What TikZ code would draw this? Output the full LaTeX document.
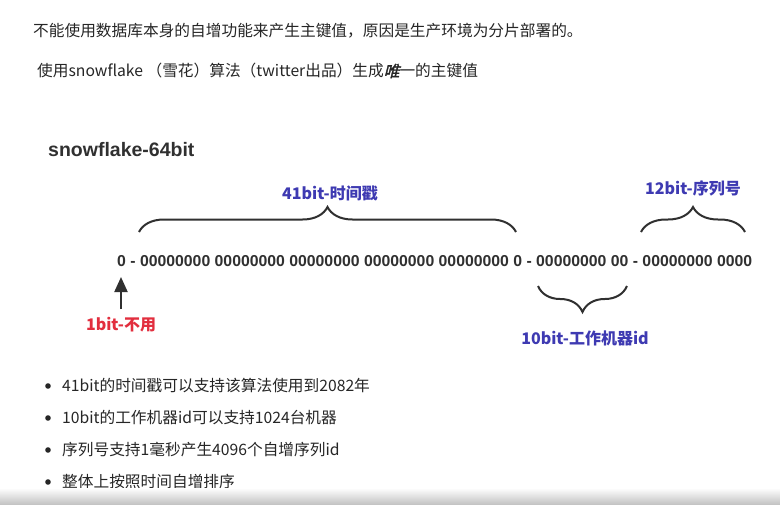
\documentclass[tikz,border=0pt]{standalone}
\usepackage{fontspec}
\setmainfont{Noto Sans CJK SC}
\newfontfamily\bitfont{Liberation Sans}
\newfontfamily\slantfont[FakeSlant=0.25,FakeBold=2]{Noto Sans CJK SC}
\usetikzlibrary{arrows.meta,decorations.pathreplacing}
\definecolor{ctext}{RGB}{38,38,38}
\definecolor{cdiag}{RGB}{48,48,48}
\definecolor{cfield}{RGB}{62,58,178}
\definecolor{cunused}{RGB}{226,46,62}
\definecolor{cshade}{RGB}{196,196,196}

\begin{document}
\begin{tikzpicture}[x=1pt,y=-1pt,
  every node/.style={inner sep=0pt},
  para/.style={anchor=west,text=ctext,font=\fontsize{15.7}{17}\selectfont},
  field/.style={font=\fontsize{16}{18}\selectfont\bfseries},
  bitbrace/.style={draw=cdiag,line width=2pt,decorate,decoration={brace,amplitude=#1}}]
  \fill[white] (0,0) rectangle (780,504);
  \useasboundingbox (0,0) rectangle (780,504);
  % intro lines
  \node[para] (intro) at (33,31) {不能使用数据库本身的自增功能来产生主键值，原因是生产环境为分片部署的。};
  \node[para] (algo) at (37,71) {使用snowflake （雪花）算法（twitter出品）生成{\slantfont 唯}一的主键值};
  % diagram
  \node[anchor=west,text=cdiag,font=\bitfont\fontsize{19.5}{22}\selectfont\bfseries] (title) at (48,150) {snowflake-64bit};
  \node[anchor=west,text=cdiag,font=\bitfont\fontsize{15.8}{18}\selectfont\bfseries] (bits) at (117,261)
    {0 - 00000000 00000000 00000000 00000000 00000000 0 - 00000000 00 - 00000000 0000};
  % braces
  \coordinate (tsL) at (139,232); \coordinate (tsR) at (516,232);
  \coordinate (wkL) at (538,286); \coordinate (wkR) at (627,286);
  \coordinate (sqL) at (641,232); \coordinate (sqR) at (745,232);
  \draw[bitbrace=25pt] (tsL) -- (tsR);
  \draw[bitbrace=26pt] (wkR) -- (wkL);
  \draw[bitbrace=25pt] (sqL) -- (sqR);
  \node[field,text=cfield] (ts) at (330,193) {41bit-时间戳};
  \node[field,text=cfield] (wk) at (585,338) {10bit-工作机器id};
  \node[field,text=cfield] (sq) at (693,188) {12bit-序列号};
  % sign bit
  \node[field,text=cunused] (unused) at (121,325) {1bit-不用};
  \coordinate (signtip) at (121,277);
  \coordinate (signtail) at (121,309);
  \draw[cdiag,line width=2pt,-{Triangle[width=13pt,length=15pt]}] (signtail) -- (signtip);
  % notes
  \foreach \t [count=\i] in {41bit的时间戳可以支持该算法使用到2082年,
      10bit的工作机器id可以支持1024台机器,
      序列号支持1毫秒产生4096个自增序列id,
      整体上按照时间自增排序} {
    \fill[ctext] (48,354+32*\i) circle (2.8);
    \node[para] (note\i) at (62,354+32*\i) {\t};
  }
  \shade[top color=white,bottom color=cshade] (0,488) rectangle (780,504);
\end{tikzpicture}
\end{document}
